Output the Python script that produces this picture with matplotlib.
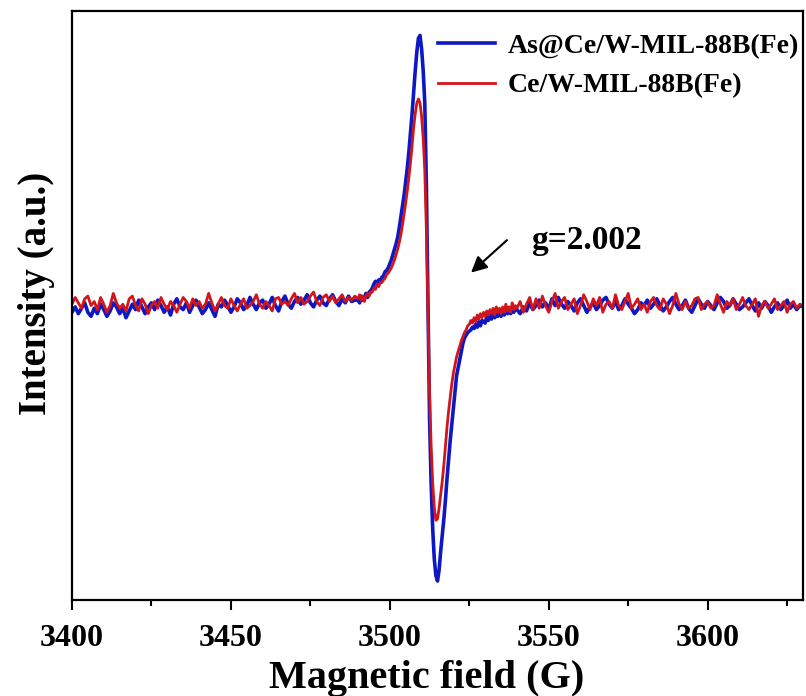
import numpy as np
import matplotlib
matplotlib.use("Agg")
import matplotlib.pyplot as plt
from matplotlib.ticker import MultipleLocator

plt.rcParams['font.family'] = ['Liberation Serif', 'DejaVu Serif']
plt.rcParams['font.weight'] = 'bold'

# field grid (G): coarse on the baseline, 0.5 G around the resonance
field = np.concatenate([np.arange(3400, 3490, 1.0),
                        np.arange(3490, 3540, 0.5),
                        np.arange(3540, 3631, 1.0)])

# As@Ce/W-MIL-88B(Fe), intensity in a.u. (peak = 100)
as_base_left = [
    -2.5, -0.5, -3, -1, 1, -2.5, -4, -1, -3, 0.5, -1.5, -4, -2, 1, -0.5, -3, -1, -4.5, -2, 0.5,
    -1.5, 2, -0.5, -3, -0.5, 1, -1.5, 2, 0, -2.5, -0.5, -3.5, 0.5, 2.5, -0.5, -1.5, 1, -2.5, 0, 2,
    -0.5, -3, -1.5, 1, -1.5, -4, 0.5, -0.5, 2, 0, -2.5, -0.5, 2.5, 1, -1.5, 0, 3, 0.5, -1.5, 1,
    2, -1, 0.5, 3, 0, -2, 1.5, 3.5, 0.5, -1, 1.5, 3, 0.5, 2, 4, 1, -0.5, 2, 3.5, 1,
    0, 2.5, 4, 1.5, 0, 2.5, 1, 3.5, 1.5, 2]
as_signal = [
    2, 1, 3.5, 2, 3, 4.5, 3, 5, 5.5, 6.5,
    8, 9, 8, 9.5, 9, 10.5, 11, 12.5, 13, 14,
    15.5, 17, 19, 21, 23, 25.5, 29, 33, 37, 41,
    46, 51, 57, 64, 71, 79, 87, 94, 99, 100,
    95, 87, 75, 45, 2, -42, -66, -83, -94, -100,
    -102, -98, -91, -85, -79, -72, -64, -57, -50, -44,
    -38, -32, -26, -23, -20, -17, -14, -12, -11, -10,
    -9.5, -9, -8, -8.5, -7, -8, -6, -7.5, -5.5, -6,
    -6.5, -4, -5.5, -3.5, -5, -3, -4.5, -2.5, -4, -2,
    -4, -1.5, -3.5, -1.5, -3, -1, -3, -0.5, -2.5, -1]
as_base_right = [
    -1.5, -3, -0.5, -2, 1, -1.5, 0, 2, -0.5, 1, -1.5, 2.5, 0, 3, 0.5, -1, 1.5, 0, -2, 1,
    2.5, 0, -2.5, -0.5, 1, -1.5, 0, 2, 3, 0.5, -1, 1.5, -1.5, 0, 2.5, 0.5, -1, -3, -1.5, 1,
    0, 2, -1, 0.5, 2.5, 0, -2, -0.5, 1.5, 3, 0.5, -1.5, 0, 2, -1, -2.5, 0, 2.5, 0.5, -1,
    1.5, 0, -1.5, 1, 3, 1.5, -1, 0, 2.5, 0.5, -1.5, -0.5, 1, 2.5, 0, -2, 1, -1, 1.5, 0,
    -2.5, -0.5, 1, -1.5, 0, 2, -1, 0.5, -1.5, 0, -0.5]

# Ce/W-MIL-88B(Fe)
ce_base_left = [
    0.5, 3, 1, -1, 2.5, 3.5, 0, 1.5, -1.5, 3, 0.5, -2.5, 0, 4.5, 1, -1, 0.5, -2, 2.5, 3.5,
    0, -2, 2.5, 0.5, -3, 0, 1.5, -1, 3, 0.5, -1.5, 1.5, 0, -2.5, 0.5, 3, 1.5, -1, 2.5, 0,
    1.5, -1, 0.5, 4.5, 1, -2, 0.5, 3, 0, -1, 2.5, 0, -2, 0.5, 2.5, -1, 0, 1.5, 4, 0.5,
    -1, 1.5, 0, -2, 2.5, 3, 0.5, 1.5, 0, 2.5, 4.5, 1, 3, 0.5, 1.5, 3.5, 5, 1.5, 0, 3,
    4, 1.5, 3.5, 1, 2.5, 4, 1.5, 3, 2, 3.5]
ce_signal = [
    2.5, 4, 2, 3.5, 1.5, 3.5, 4.5, 3.5, 5, 5,
    6.5, 6, 8, 7, 8.5, 8.5, 9.5, 10, 11.5, 12,
    13, 14, 15.5, 17, 19, 21, 23.5, 26.5, 30, 34,
    38, 42.5, 47.5, 53, 59, 66, 71, 75, 76.5, 75,
    70, 62, 50, 28, -2, -32, -52, -66, -75, -79.5,
    -79, -75, -70, -65, -59, -52, -45, -39, -34, -29,
    -25, -22, -19, -17, -15, -13, -11.5, -10, -9, -7.5,
    -7, -5.5, -6.5, -4.5, -6, -3.5, -5, -3, -4.5, -2.5,
    -4, -2, -3.5, -1.5, -3, -1, -3.5, -0.5, -2.5, -1,
    -3, -0.5, -2.5, 0.5, -2, -0.5, -2.5, 1, -1.5, 0]
ce_base_right = [
    -1, 1.5, -2.5, 0.5, 3, -1.5, 2.5, -1, 3.5, 0, -2.5, 1.5, 4.5, -1, 1.5, 3, -1.5, 0.5, 2.5, -3,
    0, 4, 1.5, -1.5, 2.5, 0, 3, -2.5, 0.5, 1.5, -1, 4, 0, -1.5, 1.5, 4.5, -1, 0.5, 2.5, -1.5,
    0.5, -2.5, 1.5, 3, 0, -1.5, 2.5, 0.5, -3, 0, 4.5, 0.5, -1.5, 1.5, -1, 0, 2.5, 3, -1.5, 0.5,
    1.5, -1, 0, 4, 0.5, -2.5, 1.5, 0, 2.5, -1.5, 0.5, 3, 0, -1.5, 0.5, 2.5, -4, 0, 1.5, -1,
    0.5, 2.5, -1.5, 0, 1.5, -2.5, 0.5, 1.5, -1, 0.5, 0]

as_epr = np.array(as_base_left + as_signal + as_base_right)
ce_epr = np.array(ce_base_left + ce_signal + ce_base_right)

fig = plt.figure(figsize=(8.06, 6.96), dpi=100)
ax = fig.add_axes([0.0893, 0.138, 0.9070, 0.846])

ax.plot(field, as_epr, color='#0d18c4', lw=2.6, label='As@Ce/W-MIL-88B(Fe)')
ax.plot(field, ce_epr, color='#d0161c', lw=2.0, label='Ce/W-MIL-88B(Fe)')

ax.set_xlim(3400, 3630)
ax.set_ylim(-109, 109)
ax.xaxis.set_major_locator(MultipleLocator(50))
ax.xaxis.set_minor_locator(MultipleLocator(25))
ax.tick_params(axis='x', which='major', direction='out', length=7, width=1.5,
               labelsize=23, pad=10, top=False)
ax.tick_params(axis='x', which='minor', direction='out', length=4.5, width=1.5, top=False)
ax.tick_params(axis='y', which='both', left=False, right=False, labelleft=False)
for sp in ax.spines.values():
    sp.set_linewidth(1.6)

ax.set_xlabel('Magnetic field (G)', fontsize=29, fontweight='bold')
ax.xaxis.set_label_coords(0.485, -0.102)
ax.set_ylabel('Intensity (a.u.)', fontsize=28, fontweight='bold', labelpad=12)
ax.yaxis.label.set_y(0.52)

ax.annotate('', xy=(3524.9, 11.5), xytext=(3537.5, 24.9),
            arrowprops=dict(arrowstyle='-|>', color='k', lw=1.5, mutation_scale=24))
ax.text(3544.3, 24, 'g=2.002', fontsize=24, fontweight='bold', ha='left', va='center')

ax.legend(loc='upper left', bbox_to_anchor=(0.5007, 0.962), frameon=False,
          fontsize=20, handlelength=2.05, handletextpad=0.45, labelspacing=0.5,
          borderpad=0, borderaxespad=0)

fig.savefig('out.png', dpi=100)
